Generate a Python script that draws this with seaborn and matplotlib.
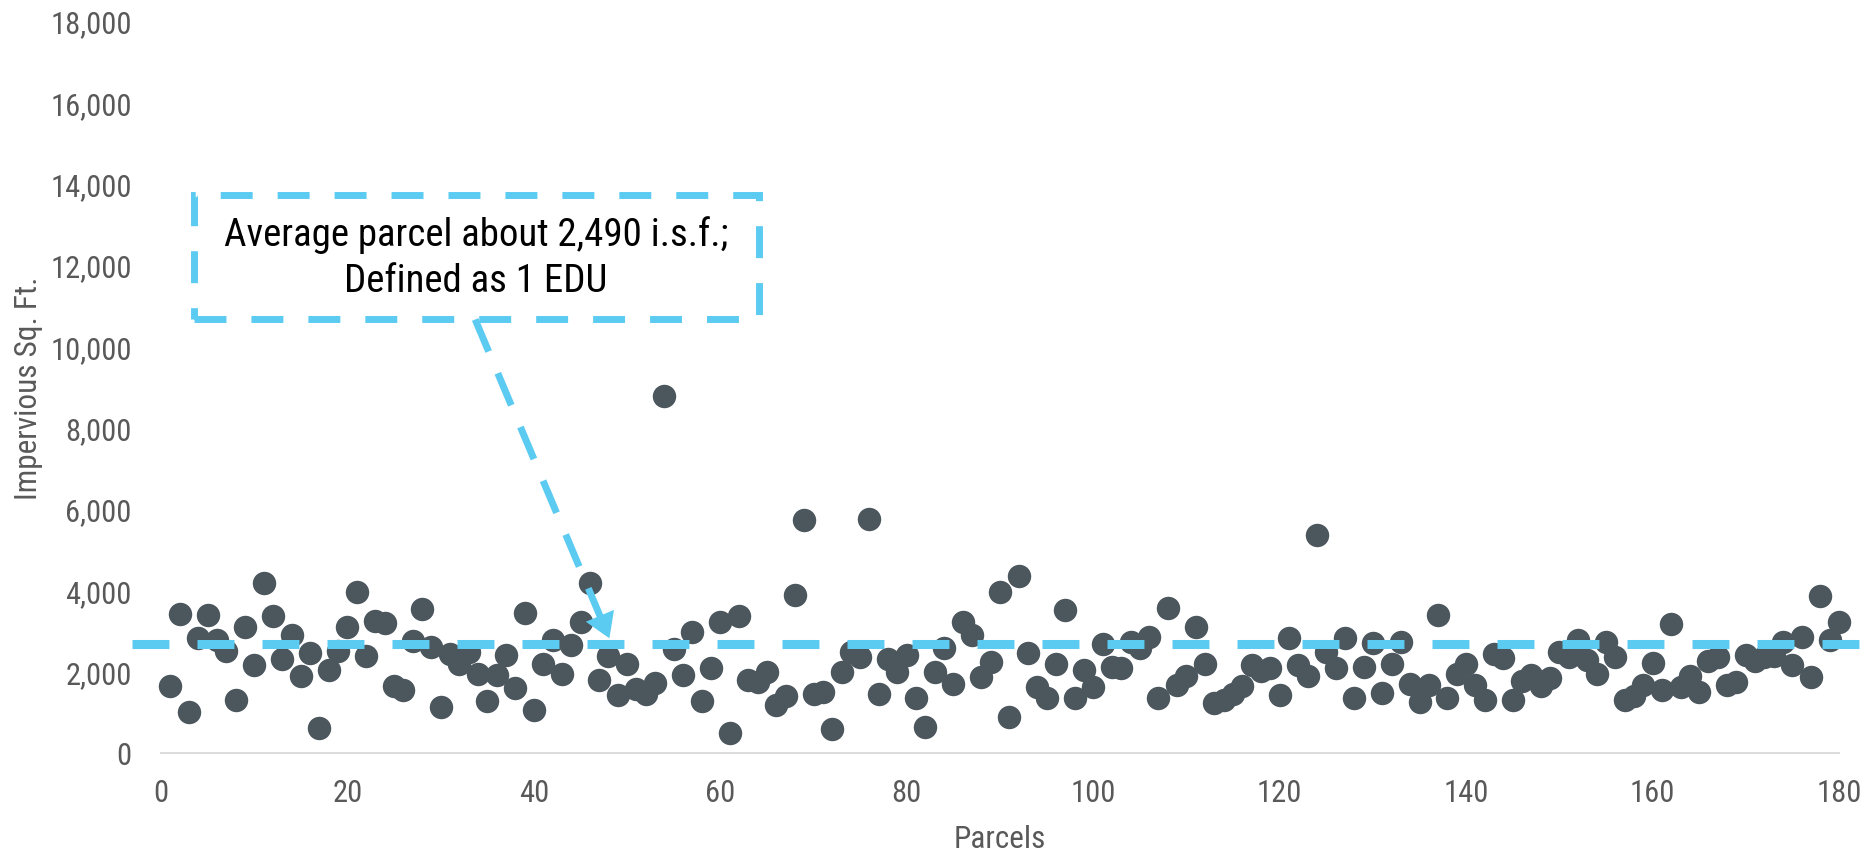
import matplotlib
matplotlib.use("Agg")
import matplotlib.pyplot as plt
import seaborn as sns
import pandas as pd
from matplotlib import font_manager
from matplotlib.font_manager import FontProperties
from matplotlib.patches import Rectangle
from matplotlib.ticker import FuncFormatter

# ---------------- data ----------------
parcels = list(range(1, 181))
impervious_sqft = [
    1650, 3430, 1000, 2830, 3400, 2770, 2520, 1300, 3110, 2160,
    4180, 3380, 2320, 2890, 1890, 2450, 620, 2030, 2520, 3090,
    3970, 2390, 3240, 3200, 1640, 1560, 2760, 3540, 2610, 1130,
    2440, 2190, 2480, 1950, 1270, 1930, 2420, 1590, 3440, 1050,
    2190, 2780, 1950, 2660, 3210, 4170, 1790, 2390, 1430, 2190,
    1570, 1450, 1720, 8770, 2560, 1930, 2980, 1280, 2100, 3220,
    480, 3360, 1800, 1750, 2000, 1180, 1390, 3890, 5720, 1440,
    1510, 590, 1980, 2490, 2370, 5750, 1440, 2300, 1990, 2410,
    1350, 630, 1990, 2570, 1690, 3210, 2900, 1880, 2250, 3950,
    890, 4350, 2460, 1620, 1350, 2180, 3510, 1350, 2050, 1620,
    2680, 2110, 2100, 2720, 2580, 2860, 1350, 3560, 1660, 1890,
    3110, 2190, 1230, 1300, 1450, 1650, 2170, 2010, 2100, 1430,
    2840, 2160, 1890, 5350, 2490, 2080, 2840, 1350, 2120, 2700,
    1480, 2190, 2730, 1700, 1250, 1660, 3390, 1360, 1940, 2180,
    1670, 1300, 2430, 2340, 1310, 1780, 1910, 1640, 1850, 2490,
    2350, 2770, 2290, 1940, 2730, 2360, 1310, 1410, 1670, 2210,
    1560, 3170, 1620, 1900, 1510, 2270, 2350, 1660, 1750, 2410,
    2270, 2350, 2390, 2720, 2170, 2850, 1880, 3870, 2790, 3230,
]
average_line_value = 2690
average_line_x = [-3.1, 182.2]
x_ticks = list(range(0, 181, 20))
y_ticks = list(range(0, 18001, 2000))
annotation_lines = "Average parcel about 2,490 i.s.f.;\nDefined as 1 EDU"
box_x = [3.5, 64.1]
box_y = [10660, 13720]
arrow_start = (33.7, 10660)
arrow_end = (48.1, 2820)

# ---------------- fonts ----------------
sns.set_theme(style="white")


def pick_narrow_font():
    entries = font_manager.fontManager.ttflist
    prefs = ["Liberation Sans Narrow", "Arial Narrow", "Roboto Condensed",
             "Open Sans Condensed", "Noto Sans Condensed", "DejaVu Sans Condensed"]
    for p in prefs:
        for f in entries:
            if f.name == p and f.weight in (400, "normal", "regular") and f.style == "normal":
                return f.fname, True
    for f in entries:
        st = str(f.stretch).lower()
        if ("condensed" in st or "narrow" in st or f.stretch in (500,) is False) and \
                f.style == "normal" and f.weight in (400, "normal", "regular") and \
                ("condensed" in st or "narrow" in st):
            if any(k in f.name for k in ("Sans", "Roboto", "Lato", "Inter")):
                return f.fname, True
    for f in entries:
        st = str(f.stretch).lower()
        if (isinstance(f.stretch, int) and f.stretch < 500 and f.style == "normal"
                and f.weight in (400, "normal", "regular")):
            return f.fname, True
    for f in entries:
        if f.name == "Liberation Sans" and f.style == "normal" and f.weight in (400, "normal", "regular"):
            return f.fname, False
    return None, False


font_file, is_narrow = pick_narrow_font()
scale = 1.0 if is_narrow else 0.88
plt.rcParams["font.family"] = ["Liberation Sans", "DejaVu Sans"]
plt.rcParams["lines.scale_dashes"] = False


def fp(size):
    if font_file:
        return FontProperties(fname=font_file, size=size * scale)
    return FontProperties(family=["Liberation Sans", "DejaVu Sans"], size=size * scale)


dot_color = "#4b565d"
blue = "#5ccbf2"
gray_text = "#595959"

W, H = 1866, 854
fig = plt.figure(figsize=(W / 100, H / 100), dpi=100)
ax = fig.add_axes([161 / W, 1 - 754 / H, 1678 / W, 732 / H])

df = pd.DataFrame({"Parcels": parcels, "Impervious Sq. Ft.": impervious_sqft})
sns.scatterplot(data=df, x="Parcels", y="Impervious Sq. Ft.", ax=ax,
                s=285, color=dot_color, linewidth=0, zorder=3, clip_on=False)

# average dashed line
ax.plot(average_line_x, [average_line_value] * 2, color=blue, lw=6.5,
        linestyle=(0, (26.6, 20.2)), dash_capstyle="butt",
        clip_on=False, zorder=4)

# annotation box
rect = Rectangle((box_x[0], box_y[0]), box_x[1] - box_x[0], box_y[1] - box_y[0],
                 fill=False, edgecolor=blue, lw=5, linestyle=(0, (23, 18)),
                 joinstyle="miter", zorder=4)
ax.add_patch(rect)
ax.text((box_x[0] + box_x[1]) / 2, (box_y[0] + box_y[1]) / 2, annotation_lines,
        ha="center", va="center", fontproperties=fp(28), color="black",
        linespacing=1.3, zorder=5)

# arrow (dashed shaft + solid head)
ax.plot([arrow_start[0], arrow_end[0]], [arrow_start[1], arrow_end[1]],
        color=blue, lw=5, linestyle=(0, (25, 17)), dash_capstyle="butt",
        zorder=4)
dx = arrow_end[0] - arrow_start[0]
dy = arrow_end[1] - arrow_start[1]
ax.annotate("", xy=arrow_end,
            xytext=(arrow_end[0] - dx * 0.06, arrow_end[1] - dy * 0.06),
            arrowprops=dict(arrowstyle="-|>,head_length=0.8,head_width=0.5",
                            color=blue, lw=0, mutation_scale=22,
                            shrinkA=0, shrinkB=0),
            zorder=5)

# axes
ax.set_xlim(0, 180)
ax.set_ylim(0, 18000)
ax.set_xticks(x_ticks)
ax.set_yticks(y_ticks)
ax.yaxis.set_major_formatter(FuncFormatter(lambda v, p: f"{int(v):,}"))
ax.tick_params(axis="both", length=0, colors=gray_text)
ax.tick_params(axis="x", pad=18)
ax.tick_params(axis="y", pad=21)
for lab in ax.get_xticklabels() + ax.get_yticklabels():
    lab.set_fontproperties(fp(22))
for side in ["top", "right", "left"]:
    ax.spines[side].set_visible(False)
ax.spines["bottom"].set_color("#d9d9d9")
ax.spines["bottom"].set_linewidth(1.3)
ax.grid(False)

ax.set_xlabel("Parcels", fontproperties=fp(22.5), color=gray_text)
ax.set_ylabel("Impervious Sq. Ft.", fontproperties=fp(22.5), color=gray_text)
ax.xaxis.set_label_coords(0.5, -0.097)
ax.yaxis.set_label_coords(-0.0703, 0.5)

fig.savefig("out.png", dpi=100)
